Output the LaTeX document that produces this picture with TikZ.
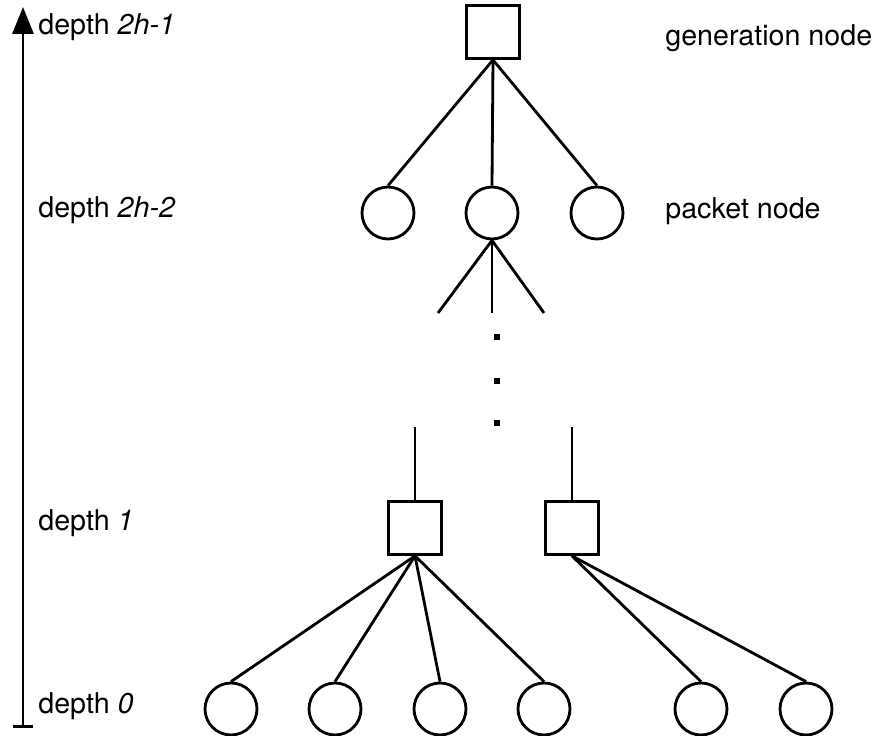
\documentclass[tikz,border=0pt]{standalone}
\usepackage{fontspec}
\setmainfont{TeX Gyre Heros}
\usetikzlibrary{arrows.meta,positioning}
\tikzset{
  gen/.style   ={draw,line width=1.6pt,minimum size=1.06cm,inner sep=0pt},
  pkt/.style   ={draw,circle,line width=1.6pt,minimum size=1.04cm,inner sep=0pt},
  edge/.style  ={line width=1.6pt},
  dot/.style   ={fill=black,minimum size=0.12cm,inner sep=0pt},
  lbl/.style   ={anchor=base west,inner sep=0pt,font=\fontsize{16.3pt}{19pt}\selectfont},
}
\begin{document}
\begin{tikzpicture}[x=0.02cm,y=-0.02cm]
  \useasboundingbox (0,0) rectangle (877,736);
  % depth axis
  \coordinate (axlo) at (23,728);
  \coordinate (axhi) at (23,7);
  \draw[line width=1.7pt,{Bar[width=0.42cm]}-{Triangle[length=0.54cm,width=0.42cm]}] (axlo) -- (axhi);
  \node[lbl] (d2h1) at (38,35)  {depth \textit{2h-1}};
  \node[lbl] (d2h2) at (38,218) {depth \textit{2h-2}};
  \node[lbl] (d1)   at (38,531) {depth \textit{1}};
  \node[lbl] (d0)   at (38,714) {depth \textit{0}};
  % top levels
  \node[gen] (g) at (493,32) {};
  \node[pkt] (p1) at (388,213) {};
  \node[pkt] (p2) at (492,213) {};
  \node[pkt] (p3) at (597,213) {};
  \foreach \p in {p1,p2,p3} \draw[edge] (g.south) -- (\p.north);
  \node[lbl] (glbl) at (665,46)  {generation node};
  \node[lbl] (plbl) at (665,219) {packet node};
  \coordinate (s1) at (438,313);
  \coordinate (s2) at (492,313);
  \coordinate (s3) at (544,313);
  \foreach \s in {s1,s2,s3} \draw[edge] (p2.south) -- (\s);
  % dots
  \foreach \y [count=\i] in {337,381,423} \node[dot] (dt\i) at (497,\y) {};
  % depth 1
  \node[gen] (ga) at (415,528) {};
  \node[gen] (gb) at (572,528) {};
  \coordinate (ta) at (415,427);
  \coordinate (tb) at (572,427);
  \draw[edge] (ta) -- (ga.north);
  \draw[edge] (tb) -- (gb.north);
  % depth 0
  \foreach \x [count=\i] in {231,335,440,544,701,806} \node[pkt] (c\i) at (\x,709) {};
  \foreach \c in {c1,c2,c3,c4} \draw[edge] (ga.south) -- (\c.north);
  \foreach \c in {c5,c6} \draw[edge] (gb.south) -- (\c.north);
\end{tikzpicture}
\end{document}
